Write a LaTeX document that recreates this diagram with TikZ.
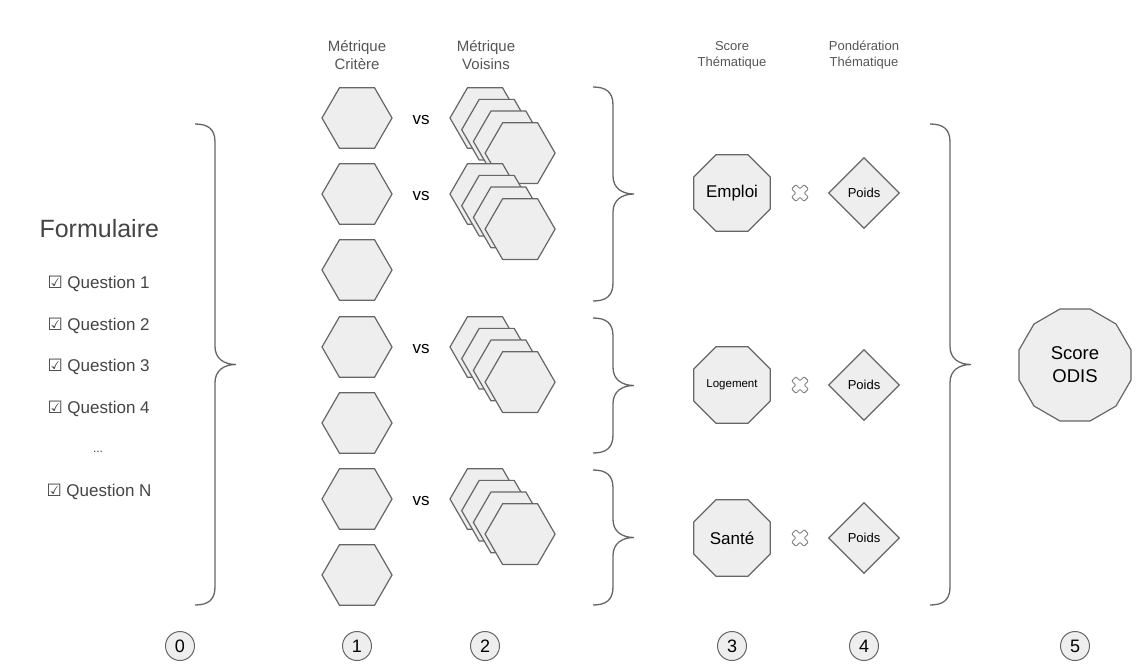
\documentclass[tikz,border=0pt]{standalone}
\usepackage{fontspec}
\setmainfont{Liberation Sans}
\newfontfamily\checkfont{DejaVu Sans}
\usepackage{xcolor}
\usepackage{tikz}
\usetikzlibrary{shapes.geometric}

\definecolor{shapefill}{HTML}{EEEEEE}
\definecolor{shapeline}{HTML}{666666}
\definecolor{headgray}{HTML}{555555}
\definecolor{textgray}{HTML}{444444}

\tikzset{
  hexa/.style={regular polygon, regular polygon sides=6, minimum size=70pt, inner sep=0pt,
    fill=shapefill, draw=shapeline, line width=1.2pt},
  octa/.style={regular polygon, regular polygon sides=8, minimum size=83pt, inner sep=0pt,
    fill=shapefill, draw=shapeline, line width=1.2pt, font=\fontsize{17}{20}\selectfont},
  dodeca/.style={regular polygon, regular polygon sides=12, minimum size=116pt, inner sep=0pt,
    fill=shapefill, draw=shapeline, line width=1.2pt, align=center, font=\fontsize{18.5}{23}\selectfont},
  poids/.style={diamond, minimum width=71pt, minimum height=71pt, inner sep=0pt,
    fill=shapefill, draw=shapeline, line width=1.2pt, font=\fontsize{13}{15}\selectfont},
  stepnum/.style={circle, minimum size=29pt, inner sep=0pt, fill=shapefill, draw=shapeline,
    line width=1pt, font=\fontsize{18}{20}\selectfont},
  header/.style={align=center, text=headgray, font=\fontsize{15}{18}\selectfont},
  subheader/.style={align=center, text=headgray, font=\fontsize{13}{16}\selectfont},
  formtitle/.style={anchor=west, text=textgray, font=\fontsize{25}{28}\selectfont},
  question/.style={anchor=west, text=textgray, font=\fontsize{17}{20}\selectfont},
  vslabel/.style={font=\fontsize{17}{20}\selectfont},
  bracestyle/.style={draw=shapeline, line width=1.3pt},
  timesmark/.pic={
    \draw[fill=white, draw=shapeline!80, line width=1pt, rounded corners=1pt, rotate=45]
      (3,3) -- (8.7,3) -- (8.7,-3) -- (3,-3) -- (3,-8.7) -- (-3,-8.7)
      -- (-3,-3) -- (-8.7,-3) -- (-8.7,3) -- (-3,3) -- (-3,8.7) -- (3,8.7) -- cycle;
  }
}

% x, top, bottom, name of the tip
\newcommand{\curlybrace}[4]{%
  \pgfmathsetmacro{\bmid}{(#2+#3)/2}
  \draw[bracestyle] (#1,#2) .. controls +(13,0) and +(0,-13) .. (#1+20,#2+18)
    -- (#1+20,\bmid-18) .. controls +(0,12) and +(-12,0) .. (#1+41,\bmid) coordinate (#4)
    .. controls +(-12,0) and +(0,-12) .. (#1+20,\bmid+18)
    -- (#1+20,#3-18) .. controls +(0,13) and +(13,0) .. (#1,#3);
}

\begin{document}
\begin{tikzpicture}[x=1pt,y=-1pt]
    \useasboundingbox (0,0) rectangle (1143,666);

    %%% HEADERS %%%
    \node[header] (hcrit) at (357,55) {Métrique\\Critère};
    \node[header] (hvois) at (486,55) {Métrique\\Voisins};
    \node[subheader] (hscore) at (732,55) {Score\\Thématique};
    \node[subheader] (hpond) at (864,55) {Pondération\\Thématique};

    %%% FORMULAIRE %%%
    \node[formtitle] (form) at (36,229) {Formulaire};
    \node[question] (q1) at (44,284) {{\checkfont ☑}~Question 1};
    \node[question] (q2) at (44,326) {{\checkfont ☑}~Question 2};
    \node[question] (q3) at (44,367) {{\checkfont ☑}~Question 3};
    \node[question] (q4) at (44,409) {{\checkfont ☑}~Question 4};
    \node[text=textgray, font=\fontsize{12}{13}\selectfont] (qdots) at (98,452) {...};
    \node[question] (qn) at (43,492) {{\checkfont ☑}~Question N};

    %%% METRIQUE CRITERE %%%
    \node[hexa] (c1) at (357,118) {};
    \node[hexa] (c2) at (357,194) {};
    \node[hexa] (c3) at (357,270) {};
    \node[hexa] (c4) at (357,347) {};
    \node[hexa] (c5) at (357,423) {};
    \node[hexa] (c6) at (357,499) {};
    \node[hexa] (c7) at (357,575) {};

    %%% METRIQUE VOISINS %%%
    \foreach \row/\y in {1/118, 2/194, 4/347, 6/499}
        \foreach \k in {0,...,3}
            \node[hexa] (v\row-\k) at (485+11.7*\k,\y+11.7*\k) {};

    \node[vslabel] (vs1) at (421,120) {vs};
    \node[vslabel] (vs2) at (421,196) {vs};
    \node[vslabel] (vs4) at (421,349) {vs};
    \node[vslabel] (vs6) at (421,501) {vs};

    %%% BRACES %%%
    \curlybrace{195}{124}{605}{b0}
    \curlybrace{593}{87}{301}{b1}
    \curlybrace{593}{318}{453}{b2}
    \curlybrace{593}{470}{605}{b3}
    \curlybrace{930}{124}{605}{b4}

    %%% SCORE THEMATIQUE %%%
    \node[octa] (emploi) at (732,193) {Emploi};
    \node[octa, font=\fontsize{11.5}{14}\selectfont] (logement) at (732,385) {Logement};
    \node[octa] (sante) at (732,538) {Santé};

    \pic at (800,193) {timesmark};
    \pic at (800,385) {timesmark};
    \pic at (800,538) {timesmark};

    %%% PONDERATION %%%
    \node[poids] (p1) at (864,193) {Poids};
    \node[poids] (p2) at (864,385) {Poids};
    \node[poids] (p3) at (864,538) {Poids};

    %%% SCORE ODIS %%%
    \node[dodeca] (odis) at (1075,365) {Score\\ODIS};

    %%% STEPS %%%
    \node[stepnum] (n0) at (180,646) {0};
    \node[stepnum] (n1) at (357,646) {1};
    \node[stepnum] (n2) at (485,646) {2};
    \node[stepnum] (n3) at (732,646) {3};
    \node[stepnum] (n4) at (864,646) {4};
    \node[stepnum] (n5) at (1075,646) {5};
\end{tikzpicture}
\end{document}
